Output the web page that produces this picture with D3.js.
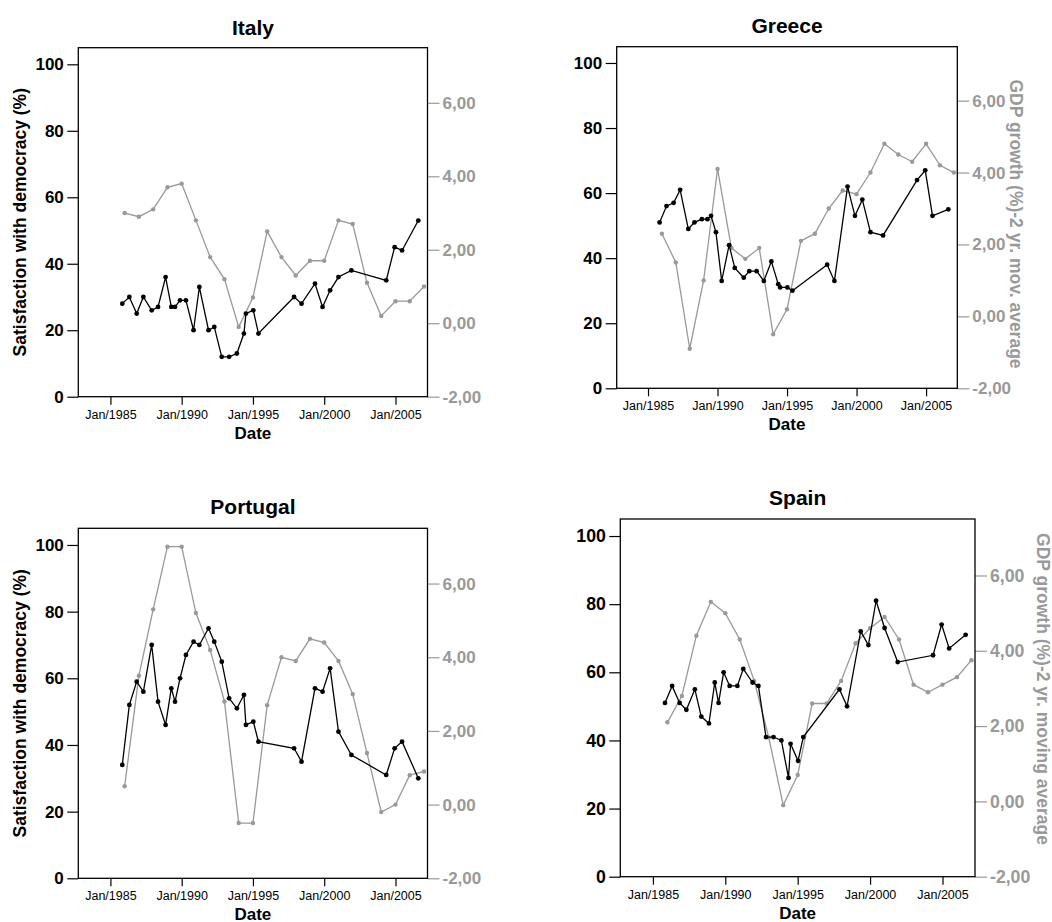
<!DOCTYPE html>
<html>
<head>
<meta charset="utf-8">
<script src="https://cdn.jsdelivr.net/npm/d3@7"></script>
<style>
  html, body { margin: 0; padding: 0; background: #fff; }
  svg { display: block; font-family: "Liberation Sans", Arial, Helvetica, sans-serif; }
</style>
</head>
<body>
<svg id="chart" width="1052" height="922"></svg>
<script>
// Eurobarometer survey waves (fieldwork dates)
const surveyDates = [
  "1985-11-01","1986-05-01","1986-11-05","1987-04-25","1987-11-25","1988-05-05",
  "1988-11-15","1989-04-10","1989-07-15","1989-11-20","1990-04-20","1990-11-01",
  "1991-03-30","1991-11-20","1992-04-15","1992-10-24","1993-05-01","1993-11-15",
  "1994-05-15","1994-07-05","1995-01-10","1995-05-22","1997-11-20","1998-05-30",
  "1999-05-10","1999-11-20","2000-06-01","2001-01-01","2001-11-28","2004-05-08",
  "2004-12-10","2005-06-18","2006-08-08"
];

// Years of the GDP growth moving average
const gdpYears = [
  "1986","1987","1988","1989","1990","1991","1992","1993","1994","1995","1996",
  "1997","1998","1999","2000","2001","2002","2003","2004","2005","2006","2007"
];

// Satisfaction with democracy (%)
const italySatisfaction    = [28,30,25,30,26,27,36,27,27,29,29,20,33,20,21,12,12,13,19,25,26,19,30,28,34,27,32,36,38,35,45,44,53];
const greeceSatisfaction   = [51,56,57,61,49,51,52,52,53,48,33,44,37,34,36,36,33,39,32,31,31,30,38,33,62,53,58,48,47,64,67,53,55];
const portugalSatisfaction = [34,52,59,56,70,53,46,57,53,60,67,71,70,75,71,65,54,51,55,46,47,41,39,35,57,56,63,44,37,31,39,41,30];
const spainSatisfaction    = [51,56,51,49,55,47,45,57,51,60,56,56,61,57,56,41,41,40,29,39,34,41,55,50,72,68,81,73,63,65,74,67,71];

// GDP growth (%), 2-year moving average
const italyGdp    = [3.0,2.9,3.1,3.7,3.8,2.8,1.8,1.2,-0.1,0.7,2.5,1.8,1.3,1.7,1.7,2.8,2.7,1.1,0.2,0.6,0.6,1.0];
const greeceGdp   = [2.3,1.5,-0.9,1.0,4.1,1.9,1.6,1.9,-0.5,0.2,2.1,2.3,3.0,3.5,3.4,4.0,4.8,4.5,4.3,4.8,4.2,4.0];
const portugalGdp = [0.5,3.5,5.3,7.0,7.0,5.2,4.2,2.8,-0.5,-0.5,2.7,4.0,3.9,4.5,4.4,3.9,3.0,1.4,-0.2,0.0,0.8,0.9];
const spainGdp    = [2.1,2.8,4.4,5.3,5.0,4.3,3.2,1.7,-0.1,0.7,2.6,2.6,3.2,4.2,4.6,4.9,4.3,3.1,2.9,3.1,3.3,3.75];

// Axis ticks and labels
const xTickDates  = ["1985-01-01","1990-01-01","1995-01-01","2000-01-01","2005-01-01"];
const xTickLabels = ["Jan/1985","Jan/1990","Jan/1995","Jan/2000","Jan/2005"];
const leftTicks   = [0,20,40,60,80,100];
const rightTicks  = [-2,0,2,4,6];
const rightTickLabels = ["-2,00","0,00","2,00","4,00","6,00"];

const countries = ["Italy","Greece","Portugal","Spain"];
const leftTitle = "Satisfaction with democracy (%)";
const xTitle = "Date";

// Panel layout
const panels = [
  { name: "Italy",    sat: italySatisfaction,    gdp: italyGdp,
    box: [78.3, 47.7, 427.5, 396.7], titleY: 35, fs: 1,
    leftTitleX: 26 },
  { name: "Greece",   sat: greeceSatisfaction,   gdp: greeceGdp,
    box: [616.7, 46.7, 957.3, 388.3], titleY: 33, fs: 1,
    rightTitle: "GDP growth (%)-2 yr. mov. average", rightTitleX: 1010, rightTitleY: 224 },
  { name: "Portugal", sat: portugalSatisfaction, gdp: portugalGdp,
    box: [78.3, 528.3, 427.5, 878.3], titleY: 514, fs: 1,
    leftTitleX: 26 },
  { name: "Spain",    sat: spainSatisfaction,    gdp: spainGdp,
    box: [620.3, 519, 975, 876.7], titleY: 505, fs: 1.04,
    rightTitle: "GDP growth (%)-2 yr. moving average", rightTitleX: 1036.5, rightTitleY: 689 }
];

const BLACK = "#000";
const GREY = "#999";
const parseDay = d3.timeParse("%Y-%m-%d");
const parseYear = d3.timeParse("%Y");

const svg = d3.select("#chart");

panels.forEach(p => {
  const [x0, y0, x1, y1] = p.box;
  const g = svg.append("g");

  const x = d3.scaleTime()
    .domain([new Date(1982, 9, 1), new Date(2007, 3, 1)])
    .range([x0, x1]);
  const yL = d3.scaleLinear().domain([0, 105]).range([y1, y0]);
  const yR = d3.scaleLinear().domain([-2, 7.5]).range([y1, y0]);

  const satData = surveyDates.map((d, i) => ({ date: parseDay(d), value: p.sat[i] }));
  const gdpData = gdpYears.map((d, i) => ({ date: parseYear(d), value: p.gdp[i] }));

  // GDP growth series (right axis)
  g.append("path")
    .datum(gdpData)
    .attr("fill", "none")
    .attr("stroke", GREY)
    .attr("stroke-width", 1.3)
    .attr("d", d3.line().x(d => x(d.date)).y(d => yR(d.value)));
  g.selectAll("circle.gdp")
    .data(gdpData)
    .join("circle")
    .attr("class", "gdp")
    .attr("cx", d => x(d.date))
    .attr("cy", d => yR(d.value))
    .attr("r", 2.2)
    .attr("fill", GREY);

  // Satisfaction series (left axis)
  g.append("path")
    .datum(satData)
    .attr("fill", "none")
    .attr("stroke", BLACK)
    .attr("stroke-width", 1.3)
    .attr("d", d3.line().x(d => x(d.date)).y(d => yL(d.value)));
  g.selectAll("circle.sat")
    .data(satData)
    .join("circle")
    .attr("class", "sat")
    .attr("cx", d => x(d.date))
    .attr("cy", d => yL(d.value))
    .attr("r", 2.4)
    .attr("fill", BLACK);

  const tickFs = 17 * p.fs;

  // Left axis
  const la = g.append("g")
    .attr("transform", `translate(${x0},0)`)
    .call(d3.axisLeft(yL).tickValues(leftTicks).tickSize(11).tickPadding(3.5));
  la.select(".domain").remove();
  la.selectAll("line").attr("stroke", BLACK).attr("stroke-width", 1.2);
  la.selectAll("text")
    .attr("fill", BLACK)
    .attr("font-size", tickFs)
    .attr("font-weight", "bold")
    .attr("font-family", "Liberation Sans, Arial, sans-serif");

  // Right axis
  const ra = g.append("g")
    .attr("transform", `translate(${x1},0)`)
    .call(d3.axisRight(yR).tickValues(rightTicks)
      .tickFormat((d, i) => rightTickLabels[i]).tickSize(12).tickPadding(3));
  ra.select(".domain").remove();
  ra.selectAll("line").attr("stroke", GREY).attr("stroke-width", 1.2);
  ra.selectAll("text")
    .attr("fill", GREY)
    .attr("font-size", tickFs)
    .attr("font-weight", "bold")
    .attr("font-family", "Liberation Sans, Arial, sans-serif");

  // Bottom axis
  const ba = g.append("g")
    .attr("transform", `translate(0,${y1})`)
    .call(d3.axisBottom(x).tickValues(xTickDates.map(parseDay))
      .tickFormat((d, i) => xTickLabels[i]).tickSize(8).tickPadding(5));
  ba.select(".domain").remove();
  ba.selectAll("line").attr("stroke", BLACK).attr("stroke-width", 1.2);
  ba.selectAll("text")
    .attr("fill", BLACK)
    .attr("font-size", 12.5)
    .attr("font-family", "Liberation Sans, Arial, sans-serif");

  // Plot frame
  g.append("rect")
    .attr("x", x0).attr("y", y0)
    .attr("width", x1 - x0).attr("height", y1 - y0)
    .attr("fill", "none")
    .attr("stroke", BLACK)
    .attr("stroke-width", 1.3);

  // Panel title
  g.append("text")
    .attr("x", (x0 + x1) / 2)
    .attr("y", p.titleY)
    .attr("text-anchor", "middle")
    .attr("font-size", 21)
    .attr("font-weight", "bold")
    .text(p.name);

  // X-axis title
  g.append("text")
    .attr("x", (x0 + x1) / 2)
    .attr("y", y1 + 42)
    .attr("text-anchor", "middle")
    .attr("font-size", 17)
    .attr("font-weight", "bold")
    .text(xTitle);

  if (p.leftTitleX !== undefined) {
    g.append("text")
      .attr("transform", `translate(${p.leftTitleX},${(y0 + y1) / 2}) rotate(-90)`)
      .attr("text-anchor", "middle")
      .attr("font-size", 17.5)
      .attr("font-weight", "bold")
      .text(leftTitle);
  }

  if (p.rightTitle) {
    g.append("text")
      .attr("transform", `translate(${p.rightTitleX},${p.rightTitleY}) rotate(90)`)
      .attr("text-anchor", "middle")
      .attr("font-size", 17.5)
      .attr("font-weight", "bold")
      .attr("fill", GREY)
      .text(p.rightTitle);
  }
});
</script>
</body>
</html>
